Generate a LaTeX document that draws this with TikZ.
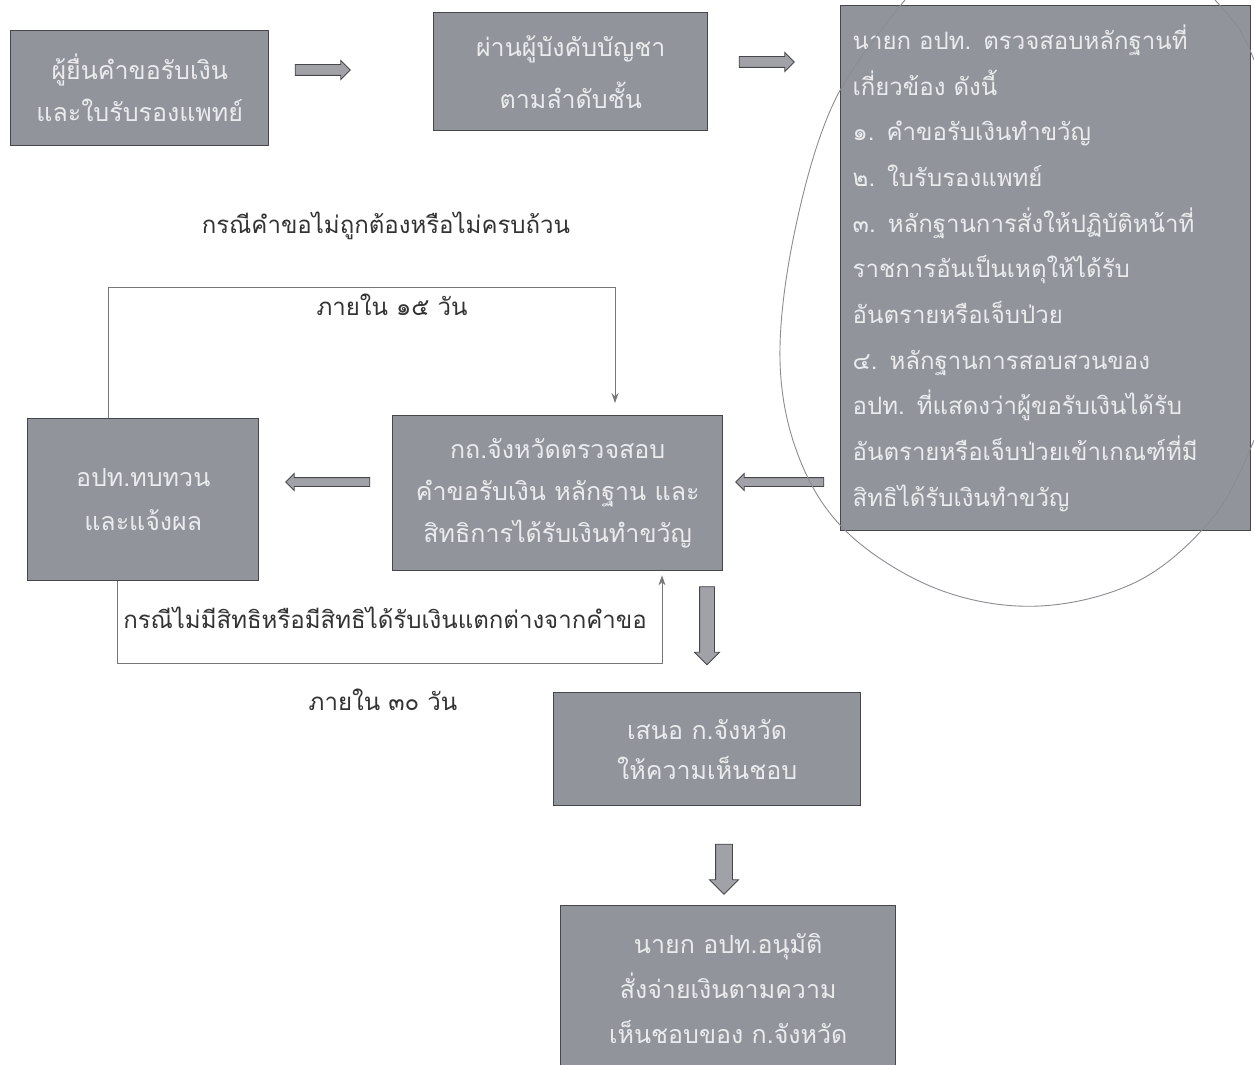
\documentclass[tikz,border=0pt]{standalone}
\usepackage{fontspec}
\newfontfamily\thaifont[Script=Thai]{Loma}
\usetikzlibrary{shapes.arrows,arrows.meta}
\definecolor{boxfill}{RGB}{146,148,155}
\definecolor{boxline}{RGB}{70,70,75}
\definecolor{boxtext}{RGB}{235,235,238}
\definecolor{arrfill}{RGB}{160,162,168}
\definecolor{thinline}{RGB}{120,120,120}
\definecolor{circ}{RGB}{140,140,145}
\begin{document}
\begin{tikzpicture}[x=1pt,y=-1pt,
  stepbox/.style={draw=boxline,line width=1.4pt,fill=boxfill,text=boxtext,inner sep=0pt,
    font=\thaifont\fontsize{25}{44}\selectfont,align=center,anchor=north west},
  blockarrow/.style={single arrow,draw=boxline,fill=arrfill,line width=0.9pt,
    inner xsep=0pt,single arrow head indent=0pt},
  blockdown/.style={single arrow,draw=boxline,fill=arrfill,line width=0.9pt,
    inner ysep=0pt,single arrow head indent=0pt,shape border rotate=270},
  thin/.style={draw=thinline,line width=0.8pt},
  lbl/.style={font=\thaifont\fontsize{24}{28}\selectfont,text=black!80}
]
\useasboundingbox (0,0) rectangle (1254,1065);
\fill[white] (0,0) rectangle (1254,1065);

% boxes
\node[stepbox,minimum width=258pt,minimum height=115pt,font=\thaifont\fontsize{25}{48}\selectfont] (b1) at (10,30) {ผู้ยื่นคำขอรับเงิน\\[-6pt]และใบรับรองแพทย์};
\node[stepbox,minimum width=274pt,minimum height=118pt,font=\thaifont\fontsize{25}{52}\selectfont] (b2) at (433,12) {ผ่านผู้บังคับบัญชา\\ตามลำดับชั้น};
\node[stepbox,minimum width=410pt,minimum height=525pt,align=left,text width=386pt,inner xsep=12pt,font=\thaifont\fontsize{24}{45.7}\selectfont] (b3) at (840,5) {นายก อปท. ตรวจสอบหลักฐานที่\\เกี่ยวข้อง ดังนี้\\๑. คำขอรับเงินทำขวัญ\\๒. ใบรับรองแพทย์\\๓. หลักฐานการสั่งให้ปฏิบัติหน้าที่\\ราชการอันเป็นเหตุให้ได้รับ\\อันตรายหรือเจ็บป่วย\\๔. หลักฐานการสอบสวนของ\\อปท. ที่แสดงว่าผู้ขอรับเงินได้รับ\\อันตรายหรือเจ็บป่วยเข้าเกณฑ์ที่มี\\สิทธิได้รับเงินทำขวัญ};
\node[stepbox,minimum width=330pt,minimum height=155pt,font=\thaifont\fontsize{25}{42}\selectfont] (b4) at (392,415) {กถ.จังหวัดตรวจสอบ\\คำขอรับเงิน หลักฐาน และ\\สิทธิการได้รับเงินทำขวัญ};
\node[stepbox,minimum width=231pt,minimum height=162pt] (b5) at (27,418) {อปท.ทบทวน\\และแจ้งผล};
\node[stepbox,minimum width=307pt,minimum height=113pt,font=\thaifont\fontsize{25}{40}\selectfont] (b6) at (553,692) {เสนอ ก.จังหวัด\\ให้ความเห็นชอบ};
\node[stepbox,minimum width=335pt,minimum height=165pt,font=\thaifont\fontsize{25}{45}\selectfont] (b7) at (560,905) {นายก อปท.อนุมัติ\\สั่งจ่ายเงินตามความ\\เห็นชอบของ ก.จังหวัด};

% block arrows
\node[blockarrow,inner ysep=5pt,single arrow head extend=4pt,minimum height=55pt] (a1) at (320,70) {};
\node[blockarrow,inner ysep=5pt,single arrow head extend=4pt,minimum height=55pt] (a2) at (764,62) {};
\node[blockarrow,inner ysep=4pt,single arrow head extend=4pt,minimum height=88pt,shape border rotate=180] (a3) at (782,482) {};
\node[blockarrow,inner ysep=4pt,single arrow head extend=4pt,minimum height=84pt,shape border rotate=180] (a4) at (330,482) {};
\node[blockdown,inner xsep=7pt,single arrow head extend=5pt,minimum height=78pt] (a5) at (707,622) {};
\node[blockdown,inner xsep=8pt,single arrow head extend=6pt,minimum height=50pt] (a6) at (724,865) {};

% thin feedback loops
\coordinate (p1) at (108,287);
\coordinate (p2) at (615,287);
\draw[thin,-{Stealth[length=10pt,width=7pt]},shorten >=12pt] (b5.north -| p1) -- (p1) -- (p2) -- (b4.north -| p2);
\coordinate (q1) at (117,663);
\coordinate (q2) at (662,663);
\draw[thin,-{Stealth[length=10pt,width=7pt]},shorten >=4pt] (b5.south -| q1) -- (q1) -- (q2) -- (b4.south -| q2);

% labels
\node[lbl] (l1) at (386,226) {กรณีคำขอไม่ถูกต้องหรือไม่ครบถ้วน};
\node[lbl] (l2) at (392,305) {ภายใน ๑๕ วัน};
\node[lbl] (l3) at (385,618) {กรณีไม่มีสิทธิหรือมีสิทธิได้รับเงินแตกต่างจากคำขอ};
\node[lbl] (l4) at (383,700) {ภายใน ๓๐ วัน};

% hand-drawn circle around box 3
\draw[circ,line width=0.9pt] plot[smooth,tension=0.6] coordinates {(905,0) (835,100) (795,230) (780,360) (800,460) (850,535) (940,590) (1040,606) (1140,580) (1215,515) (1254,440)};
\draw[circ,line width=0.9pt] plot[smooth,tension=0.6] coordinates {(1215,0) (1240,30) (1254,60)};
\end{tikzpicture}
\end{document}
